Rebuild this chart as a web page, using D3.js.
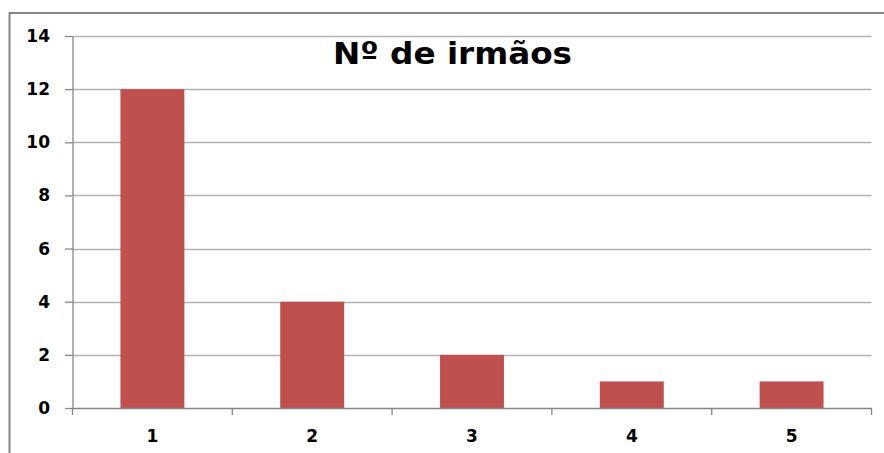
<!DOCTYPE html>
<html>
<head>
<meta charset="utf-8">
<script src="https://cdn.jsdelivr.net/npm/d3@7"></script>
<style>
  body { margin: 0; background: #fff; }
  svg { display: block; }
</style>
</head>
<body>
<div id="chart"></div>
<script>
// number of siblings
var categories = ["1", "2", "3", "4", "5"];
var values = [12, 4, 2, 1, 1];
var yTicks = [0, 2, 4, 6, 8, 10, 12, 14];
var title = "Nº de irmãos";

(function() {
  var width = 884,
      height = 453;

  var margin = { top: 36, right: 12.5, bottom: 45, left: 72.5 };

  var svg = d3.select("#chart")
    .append("svg")
    .attr("width", width)
    .attr("height", height);

  // outer chart frame (runs off the right and bottom of the picture)
  svg.append("rect")
    .attr("x", 9.5)
    .attr("y", 13)
    .attr("width", width + 20)
    .attr("height", height + 20)
    .attr("fill", "#fff")
    .attr("stroke", "#868686")
    .attr("stroke-width", 2);

  var x = d3.scaleBand()
    .domain(categories)
    .range([margin.left, width - margin.right])
    .paddingInner(0.6)
    .paddingOuter(0.3);

  // band boundaries for the x ticks
  var xEdges = d3.scaleBand()
    .domain(categories)
    .range([margin.left, width - margin.right]);

  var y = d3.scaleLinear()
    .domain([0, 14])
    .range([height - margin.bottom, margin.top]);

  // gridlines
  svg.append("g")
    .selectAll("line")
    .data(yTicks.filter(function(d) { return d > 0; }))
    .enter().append("line")
    .attr("x1", margin.left)
    .attr("x2", width - margin.right)
    .attr("y1", function(d) { return Math.round(y(d)) + 0.5; })
    .attr("y2", function(d) { return Math.round(y(d)) + 0.5; })
    .attr("stroke", "#b3b3b3")
    .attr("stroke-width", 1.3);

  // bars
  svg.append("g")
    .selectAll("rect")
    .data(values)
    .enter().append("rect")
    .attr("x", function(d, i) { return x(categories[i]); })
    .attr("width", x.bandwidth())
    .attr("y", function(d) { return y(d); })
    .attr("height", function(d) { return y(0) - y(d); })
    .attr("fill", "#c0504d");

  // y axis
  var yAxis = svg.append("g")
    .attr("transform", "translate(" + margin.left + ",0)")
    .call(d3.axisLeft(y).tickValues(yTicks).tickSize(7.5).tickPadding(15).tickSizeOuter(0));

  // x axis
  var xAxis = svg.append("g")
    .attr("transform", "translate(0," + y(0) + ")")
    .call(d3.axisBottom(xEdges).tickSize(0).tickPadding(22));

  svg.selectAll(".domain").attr("stroke", "#868686").attr("stroke-width", 1.3);
  yAxis.selectAll(".tick line").attr("stroke", "#868686").attr("stroke-width", 1.3);

  // x tick marks at band edges
  var edges = categories.map(function(c) { return xEdges(c); });
  edges.push(width - margin.right);
  svg.append("g")
    .selectAll("line")
    .data(edges)
    .enter().append("line")
    .attr("x1", function(d) { return d; })
    .attr("x2", function(d) { return d; })
    .attr("y1", y(0))
    .attr("y2", y(0) + 7)
    .attr("stroke", "#868686")
    .attr("stroke-width", 1.3);

  svg.selectAll(".tick text")
    .attr("font-family", "'DejaVu Sans', sans-serif")
    .attr("font-weight", "bold")
    .attr("font-size", 17)
    .attr("fill", "#000");

  // title
  svg.append("text")
    .attr("x", 333)
    .attr("y", 63.5)
    .attr("font-family", "'DejaVu Sans', sans-serif")
    .attr("font-weight", "bold")
    .attr("font-size", 31)
    .attr("textLength", 239)
    .attr("lengthAdjust", "spacingAndGlyphs")
    .text(title);
})();
</script>
</body>
</html>
